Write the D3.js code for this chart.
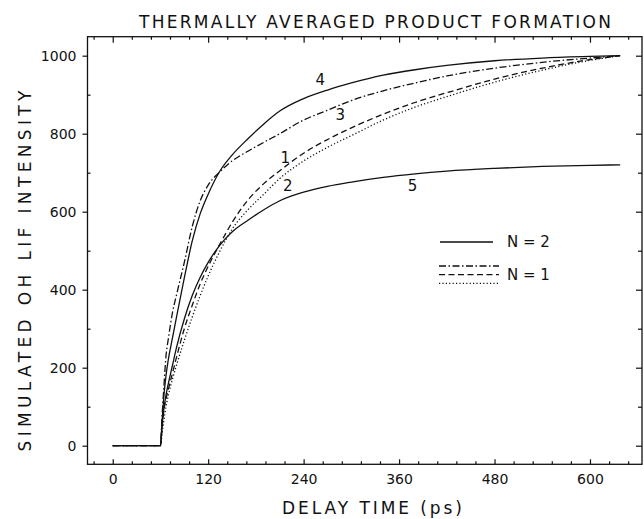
<!DOCTYPE html>
<meta charset="utf-8">
<style>
    body { margin: 0; background: #fff; }
    text { font-family: "DejaVu Sans", "Liberation Sans", sans-serif; fill: #111; }
    .frame { fill: none; stroke: #111; stroke-width: 1.3; }
    .curve { fill: none; stroke: #111; stroke-width: 1.3; }
    .axis path { display: none; }
    .axis line { stroke: #111; stroke-width: 1.2; }
    .axis text { font-size: 14px; fill: #111; }
</style>
<svg width="644" height="519"></svg>
<script src="https://d3js.org/d3.v7.min.js"></script>
<script>

    // delay times (ps) at which the curves were read
    var times = [0, 60, 62, 64, 67, 70, 75, 80, 90, 100, 110, 120, 135, 150, 170, 190, 210, 240, 270, 300, 340, 380, 420, 480, 540, 600, 638];

    // N = 2
    var curve4 = [0, 0, 60, 120, 180, 222, 275, 328, 430, 525, 595, 645, 705, 745, 787, 825, 858, 890, 912, 930, 950, 964, 975, 987, 994, 998, 1000];
    var curve5 = [0, 0, 50, 90, 130, 160, 205, 250, 325, 385, 432, 470, 515, 548, 578, 605, 628, 650, 665, 676, 688, 697, 704, 711, 716, 719, 720];
    // N = 1
    var curve3 = [0, 0, 75, 140, 230, 275, 340, 385, 470, 562, 628, 668, 703, 730, 755, 778, 800, 835, 860, 885, 910, 930, 948, 968, 983, 994, 1000];
    var curve1 = [0, 0, 45, 85, 120, 145, 185, 225, 300, 360, 415, 460, 518, 572, 630, 672, 705, 750, 785, 815, 850, 880, 905, 940, 968, 990, 1000];
    var curve2 = [0, 0, 30, 60, 100, 130, 170, 205, 270, 330, 385, 435, 500, 555, 605, 645, 685, 730, 765, 795, 835, 868, 895, 932, 963, 988, 1000];

    var xTicks = [0, 120, 240, 360, 480, 600];
    var yTicks = [0, 200, 400, 600, 800, 1000];

    // curve numbers, placed in data units (ps, intensity)
    var labelNames = ["4", "3", "1", "2", "5"];
    var labelTimes = [261, 286, 217, 220, 377];
    var labelValues = [938, 850, 738, 668, 666];

    var svg = d3.select("svg");

    var fLeft = 87.5, fRight = 642, fTop = 36.7, fBottom = 464.3;

    var x = d3.scaleLinear()
        .domain([-31.7, 665.4])
        .range([fLeft, fRight]);

    var y = d3.scaleLinear()
        .domain([-47.7, 1048.7])
        .range([fBottom, fTop]);

    var minorX = d3.range(-24, 661, 24).filter(function (d) { return d % 120 !== 0; });
    var minorY = d3.range(100, 1001, 200);

    // bottom
    svg.append("g").attr("class", "axis")
        .attr("transform", "translate(0," + fBottom + ")")
        .call(d3.axisBottom(x).tickValues(minorX).tickSize(-3).tickFormat(""));
    svg.append("g").attr("class", "axis")
        .attr("transform", "translate(0," + fBottom + ")")
        .call(d3.axisBottom(x).tickValues(xTicks).tickSize(-5).tickPadding(10));
    // top
    svg.append("g").attr("class", "axis")
        .attr("transform", "translate(0," + fTop + ")")
        .call(d3.axisTop(x).tickValues(minorX).tickSize(-3).tickFormat(""));
    svg.append("g").attr("class", "axis")
        .attr("transform", "translate(0," + fTop + ")")
        .call(d3.axisTop(x).tickValues(xTicks).tickSize(-6).tickFormat(""));
    // left
    svg.append("g").attr("class", "axis")
        .attr("transform", "translate(" + fLeft + ",0)")
        .call(d3.axisLeft(y).tickValues(minorY).tickSize(-3).tickFormat(""));
    svg.append("g").attr("class", "axis")
        .attr("transform", "translate(" + fLeft + ",0)")
        .call(d3.axisLeft(y).tickValues(yTicks).tickSize(5).tickPadding(6).tickFormat(d3.format("d")));
    // right
    svg.append("g").attr("class", "axis")
        .attr("transform", "translate(" + fRight + ",0)")
        .call(d3.axisRight(y).tickValues(minorY).tickSize(-4).tickFormat(""));
    svg.append("g").attr("class", "axis")
        .attr("transform", "translate(" + fRight + ",0)")
        .call(d3.axisRight(y).tickValues(yTicks).tickSize(-6).tickFormat(""));

    svg.append("rect")
        .attr("class", "frame")
        .attr("x", fLeft)
        .attr("y", fTop)
        .attr("width", fRight - fLeft)
        .attr("height", fBottom - fTop);

    var line = d3.line()
        .x(function (d, i) { return x(times[i]); })
        .y(function (d) { return y(d); })
        .curve(d3.curveMonotoneX);

    var dashDot = "7,2.5,1.5,2.5",
        dashed = "6,3.5",
        dotted = "1.2,2.2";

    var series = [
        { values: curve4, dash: null },
        { values: curve5, dash: null },
        { values: curve3, dash: dashDot },
        { values: curve1, dash: dashed },
        { values: curve2, dash: dotted }
    ];

    svg.selectAll(".curve")
        .data(series)
        .enter().append("path")
        .attr("class", "curve")
        .attr("d", function (d) { return line(d.values); })
        .attr("stroke-dasharray", function (d) { return d.dash; });

    svg.selectAll(".clabel")
        .data(labelNames)
        .enter().append("text")
        .attr("class", "clabel")
        .attr("x", function (d, i) { return x(labelTimes[i]); })
        .attr("y", function (d, i) { return y(labelValues[i]); })
        .attr("dy", "0.36em")
        .attr("text-anchor", "middle")
        .style("font-size", "15px")
        .text(function (d) { return d; });

    // legend
    var legend = svg.append("g").attr("transform", "translate(440,242)");
    legend.append("line").attr("class", "curve")
        .attr("x1", 0).attr("x2", 53).attr("y1", 0).attr("y2", 0);
    legend.append("text").attr("x", 67).attr("dy", "0.36em")
        .style("font-size", "15px").text("N = 2");
    [dashDot, dashed, dotted].forEach(function (dash, i) {
        legend.append("line").attr("class", "curve")
            .attr("stroke-dasharray", dash)
            .attr("x1", -1).attr("x2", 59)
            .attr("y1", 24 + i * 8.7).attr("y2", 24 + i * 8.7);
    });
    legend.append("text").attr("x", 67).attr("y", 33).attr("dy", "0.36em")
        .style("font-size", "15px").text("N = 1");

    // titles
    svg.append("text")
        .attr("x", 375).attr("y", 28)
        .attr("text-anchor", "middle")
        .attr("textLength", 472).attr("lengthAdjust", "spacing")
        .style("font-size", "17px")
        .text("THERMALLY AVERAGED PRODUCT FORMATION");

    svg.append("text")
        .attr("x", 372).attr("y", 514)
        .attr("text-anchor", "middle")
        .attr("textLength", 180).attr("lengthAdjust", "spacing")
        .style("font-size", "17px")
        .text("DELAY TIME (ps)");

    svg.append("text")
        .attr("transform", "translate(25,271) rotate(-90)")
        .attr("dy", "0.36em")
        .attr("text-anchor", "middle")
        .attr("textLength", 361).attr("lengthAdjust", "spacing")
        .style("font-size", "17px")
        .text("SIMULATED OH LIF INTENSITY");

</script>
